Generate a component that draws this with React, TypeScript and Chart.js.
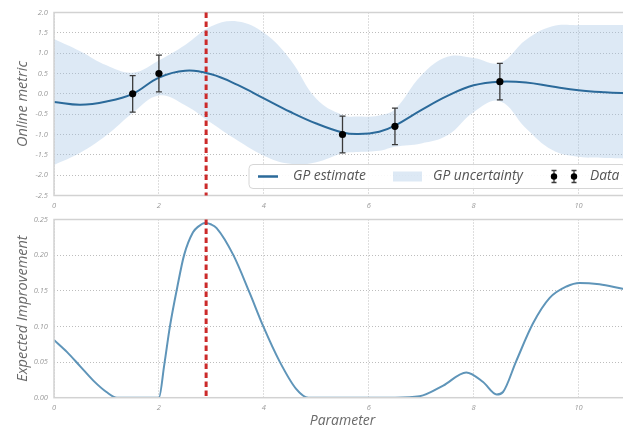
import React, { useEffect, useRef } from "react";
import { Chart, registerables } from "chart.js";
Chart.register(...registerables);

// ---------- data ----------
const gpX = [0, 0.5, 1, 1.5, 2, 2.5, 3, 3.5, 4, 4.5, 5, 5.5, 5.8, 6.2, 6.5, 7, 7.5, 8, 8.5, 9, 9.5, 10, 10.5, 11];
const gpMean = [-0.2, -0.27, -0.19, 0.0, 0.4, 0.57, 0.48, 0.22, -0.11, -0.44, -0.73, -0.95, -0.99, -0.93, -0.78, -0.4, -0.05, 0.21, 0.3, 0.28, 0.18, 0.09, 0.04, 0.01];
const gpUpper = [1.35, 1.05, 0.7, 0.52, 0.82, 1.2, 1.66, 1.78, 1.5, 0.85, -0.12, -0.52, -0.56, -0.53, -0.38, 0.45, 0.91, 0.88, 0.76, 1.33, 1.66, 1.69, 1.69, 1.69];
const gpLower = [-1.75, -1.45, -1.02, -0.47, -0.04, -0.28, -0.72, -1.15, -1.52, -1.72, -1.68, -1.46, -1.43, -1.4, -1.3, -1.22, -1.02, -0.45, -0.18, -0.85, -1.38, -1.55, -1.58, -1.6];

const dataX = [1.5, 2.0, 5.5, 6.5, 8.5];
const dataY = [0.0, 0.5, -1.0, -0.8, 0.3];
const dataErr = [0.45, 0.45, 0.45, 0.45, 0.45];

const nextX = 2.9;

const eiX = [0, 0.25, 0.5, 0.75, 1.0, 1.2, 2.0, 2.1, 2.21, 2.35, 2.48, 2.65, 2.75, 2.88, 3.0, 3.1, 3.42, 3.73, 3.99, 4.3, 4.62, 4.85, 6.5, 6.97, 7.42, 7.86, 8.18, 8.44, 8.56, 8.81, 9.13, 9.45, 9.77, 10.02, 10.4, 10.84, 11];
const eiY = [0.081, 0.064, 0.044, 0.024, 0.008, 0.0, 0.0, 0.045, 0.1, 0.155, 0.2, 0.232, 0.24, 0.245, 0.243, 0.238, 0.2, 0.147, 0.1, 0.051, 0.012, 0.0, 0.0, 0.002, 0.017, 0.0355, 0.022, 0.0045, 0.008, 0.051, 0.104, 0.14, 0.156, 0.161, 0.159, 0.153, 0.151];

const xTicks = [0, 2, 4, 6, 8, 10];
const topYTicks = [-2.5, -2.0, -1.5, -1.0, -0.5, 0.0, 0.5, 1.0, 1.5, 2.0];
const botYTicks = [0.0, 0.05, 0.1, 0.15, 0.2, 0.25];

const legendLabels = ["GP estimate", "GP uncertainty", "Data"];
const topYTitle = "Online metric";
const botYTitle = "Expected Improvement";
const xTitle = "Parameter";

// ---------- styles ----------
const FONT = '"Open Sans", "DejaVu Sans", sans-serif';
const GP_COLOR = "#2b6a9a";
const BAND_COLOR = "rgba(160,195,226,0.36)";
const EI_COLOR = "#5f95b9";
const RED = "#cc2a2a";
const FRAME = "#d2d2d2";
const GRID = "#bdbdbd";
const TICK_COLOR = "#9a9a9a";
const TITLE_COLOR = "#6a6a6a";

const CW = 640;
const TOP_H = 214;
const BOT_H = 218;
const BOT_TOP = 209;

function pts(xs: number[], ys: number[]) {
  return xs.map((x, i) => ({ x, y: ys[i] }));
}

const framePlugin = {
  id: "frameMarker",
  afterDatasetsDraw(chart: any) {
    const { ctx, chartArea: a, scales } = chart;
    ctx.save();
    ctx.strokeStyle = FRAME;
    ctx.lineWidth = 1.5;
    ctx.strokeRect(a.left, a.top, a.right - a.left, a.bottom - a.top);
    const px = scales.x.getPixelForValue(nextX);
    ctx.strokeStyle = RED;
    ctx.lineWidth = 3;
    ctx.setLineDash([5.5, 3.5]);
    ctx.beginPath();
    ctx.moveTo(px, a.top);
    ctx.lineTo(px, a.bottom);
    ctx.stroke();
    ctx.restore();
  },
  afterDraw(chart: any) {
    const { ctx, chartArea: a } = chart;
    const o = chart.options.plugins.frameMarker || {};
    ctx.save();
    ctx.fillStyle = TITLE_COLOR;
    ctx.font = `italic 14.5px ${FONT}`;
    ctx.textAlign = "center";
    ctx.textBaseline = "middle";
    if (o.yTitle) {
      ctx.save();
      ctx.translate(23, (a.top + a.bottom) / 2);
      ctx.rotate(-Math.PI / 2);
      ctx.fillText(o.yTitle, 0, 0);
      ctx.restore();
    }
    if (o.xTitle) {
      ctx.font = `italic 14px ${FONT}`;
      ctx.fillText(o.xTitle, (a.left + a.right) / 2, o.xTitleY);
    }
    ctx.restore();
  },
};

function drawErrGlyph(ctx: any, x: number, y: number, half: number, cap: number, r: number) {
  ctx.strokeStyle = "#3a3a3a";
  ctx.lineWidth = 1.3;
  ctx.beginPath();
  ctx.moveTo(x, y - half);
  ctx.lineTo(x, y + half);
  ctx.moveTo(x - cap, y - half);
  ctx.lineTo(x + cap, y - half);
  ctx.moveTo(x - cap, y + half);
  ctx.lineTo(x + cap, y + half);
  ctx.stroke();
  if (r > 0) {
    ctx.fillStyle = "#000";
    ctx.beginPath();
    ctx.arc(x, y, r, 0, Math.PI * 2);
    ctx.fill();
  }
}

const errorBarPlugin = {
  id: "errorBars",
  beforeDatasetDraw(chart: any, args: any) {
    if (args.index !== 0) return;
    const { ctx, scales } = chart;
    ctx.save();
    dataX.forEach((x, i) => {
      const px = scales.x.getPixelForValue(x);
      const yT = scales.y.getPixelForValue(dataY[i] + dataErr[i]);
      const yB = scales.y.getPixelForValue(dataY[i] - dataErr[i]);
      const yc = (yT + yB) / 2;
      drawErrGlyph(ctx, px, yc, (yB - yT) / 2, 3, 0);
    });
    ctx.restore();
  },
};

const legendPlugin = {
  id: "customLegend",
  afterDraw(chart: any) {
    const { ctx } = chart;
    ctx.save();
    const x0 = 249, y0 = 164.5, w = 377, h = 24;
    const r = 4;
    ctx.beginPath();
    ctx.moveTo(x0 + r, y0);
    ctx.lineTo(x0 + w - r, y0);
    ctx.arcTo(x0 + w, y0, x0 + w, y0 + r, r);
    ctx.lineTo(x0 + w, y0 + h - r);
    ctx.arcTo(x0 + w, y0 + h, x0 + w - r, y0 + h, r);
    ctx.lineTo(x0 + r, y0 + h);
    ctx.arcTo(x0, y0 + h, x0, y0 + h - r, r);
    ctx.lineTo(x0, y0 + r);
    ctx.arcTo(x0, y0, x0 + r, y0, r);
    ctx.closePath();
    ctx.fillStyle = "rgba(255,255,255,0.9)";
    ctx.fill();
    ctx.strokeStyle = "#d6d6d6";
    ctx.lineWidth = 1;
    ctx.stroke();
    const cy = y0 + h / 2;
    ctx.strokeStyle = GP_COLOR;
    ctx.lineWidth = 2.5;
    ctx.beginPath();
    ctx.moveTo(258, cy);
    ctx.lineTo(278, cy);
    ctx.stroke();
    ctx.fillStyle = BAND_COLOR;
    ctx.fillRect(393, cy - 5, 29, 10);
    drawErrGlyph(ctx, 554, cy, 6, 2.5, 3.2);
    drawErrGlyph(ctx, 574, cy, 6, 2.5, 3.2);
    ctx.fillStyle = "#555";
    ctx.font = `italic 13.8px ${FONT}`;
    ctx.textAlign = "left";
    ctx.textBaseline = "middle";
    ctx.fillText(legendLabels[0], 293, cy);
    ctx.fillText(legendLabels[1], 433, cy);
    ctx.fillText(legendLabels[2], 590, cy);
    ctx.restore();
  },
};

function xScale(height: number) {
  return {
    type: "linear",
    min: 0,
    max: 11,
    afterBuildTicks: (s: any) => {
      s.ticks = xTicks.map((v) => ({ value: v }));
    },
    afterFit: (s: any) => {
      s.height = height;
    },
    ticks: {
      font: { family: FONT, size: 7.5, style: "italic" },
      color: TICK_COLOR,
      padding: 6,
      maxRotation: 0,
      callback: (v: any) => String(v),
    },
    grid: { color: GRID, lineWidth: 1, drawTicks: false },
    border: { display: false, dash: [1, 2] },
  };
}

function yScale(min: number, max: number, ticks: number[], digits: number) {
  return {
    type: "linear",
    min,
    max,
    afterBuildTicks: (s: any) => {
      s.ticks = ticks.map((v) => ({ value: v }));
    },
    afterFit: (s: any) => {
      s.width = 54;
    },
    ticks: {
      font: { family: FONT, size: 7.5, style: "italic" },
      color: TICK_COLOR,
      padding: 6,
      callback: (v: any) => Number(v).toFixed(digits),
    },
    grid: { color: GRID, lineWidth: 1, drawTicks: false },
    border: { display: false, dash: [1, 2] },
  };
}

export default function App() {
  const topRef = useRef<HTMLCanvasElement>(null);
  const botRef = useRef<HTMLCanvasElement>(null);

  useEffect(() => {
    const top = new Chart(topRef.current as HTMLCanvasElement, {
      type: "line",
      data: {
        datasets: [
          {
            label: "Data",
            data: pts(dataX, dataY),
            showLine: false,
            pointRadius: 3.6,
            pointBackgroundColor: "#000",
            pointBorderWidth: 0,
            order: 0,
          },
          {
            label: "GP estimate",
            data: pts(gpX, gpMean),
            borderColor: GP_COLOR,
            borderWidth: 2,
            pointRadius: 0,
            tension: 0.4,
            fill: false,
            order: 1,
          },
          {
            label: "upper",
            data: pts(gpX, gpUpper),
            borderWidth: 0,
            borderColor: "rgba(0,0,0,0)",
            backgroundColor: BAND_COLOR,
            pointRadius: 0,
            tension: 0.4,
            fill: "+1",
            order: 2,
          },
          {
            label: "lower",
            data: pts(gpX, gpLower),
            borderWidth: 0,
            borderColor: "rgba(0,0,0,0)",
            pointRadius: 0,
            tension: 0.4,
            fill: false,
            order: 3,
          },
        ],
      },
      options: {
        responsive: false,
        animation: false,
        events: [],
        layout: { padding: { top: 12.5, right: 9, left: 0, bottom: 0 } },
        scales: {
          x: xScale(TOP_H - 195.5),
          y: yScale(-2.5, 2.0, topYTicks, 1),
        },
        plugins: {
          legend: { display: false },
          tooltip: { enabled: false },
          frameMarker: { yTitle: topYTitle },
        } as any,
      } as any,
      plugins: [errorBarPlugin, framePlugin, legendPlugin],
    });

    const bot = new Chart(botRef.current as HTMLCanvasElement, {
      type: "line",
      data: {
        datasets: [
          {
            label: "Expected Improvement",
            data: pts(eiX, eiY),
            borderColor: EI_COLOR,
            borderWidth: 2,
            pointRadius: 0,
            cubicInterpolationMode: "monotone",
            fill: false,
          },
        ],
      },
      options: {
        responsive: false,
        animation: false,
        events: [],
        layout: { padding: { top: 214.7 - BOT_TOP, right: 9, left: 0, bottom: 0 } },
        scales: {
          x: xScale(BOT_H - (397.7 - BOT_TOP)),
          y: yScale(0, 0.25, botYTicks, 2),
        },
        plugins: {
          legend: { display: false },
          tooltip: { enabled: false },
          frameMarker: { yTitle: botYTitle, xTitle: xTitle, xTitleY: 421 - BOT_TOP },
        } as any,
      } as any,
      plugins: [framePlugin],
    });

    return () => {
      top.destroy();
      bot.destroy();
    };
  }, []);

  return (
    <div
      style={{
        position: "fixed",
        left: 0,
        top: 0,
        width: 623,
        height: 427,
        overflow: "hidden",
        background: "#fff",
      }}
    >
      <canvas
        ref={topRef}
        width={CW}
        height={TOP_H}
        style={{ position: "absolute", left: 0, top: 0, width: CW, height: TOP_H }}
      />
      <canvas
        ref={botRef}
        width={CW}
        height={BOT_H}
        style={{ position: "absolute", left: 0, top: BOT_TOP, width: CW, height: BOT_H }}
      />
    </div>
  );
}
